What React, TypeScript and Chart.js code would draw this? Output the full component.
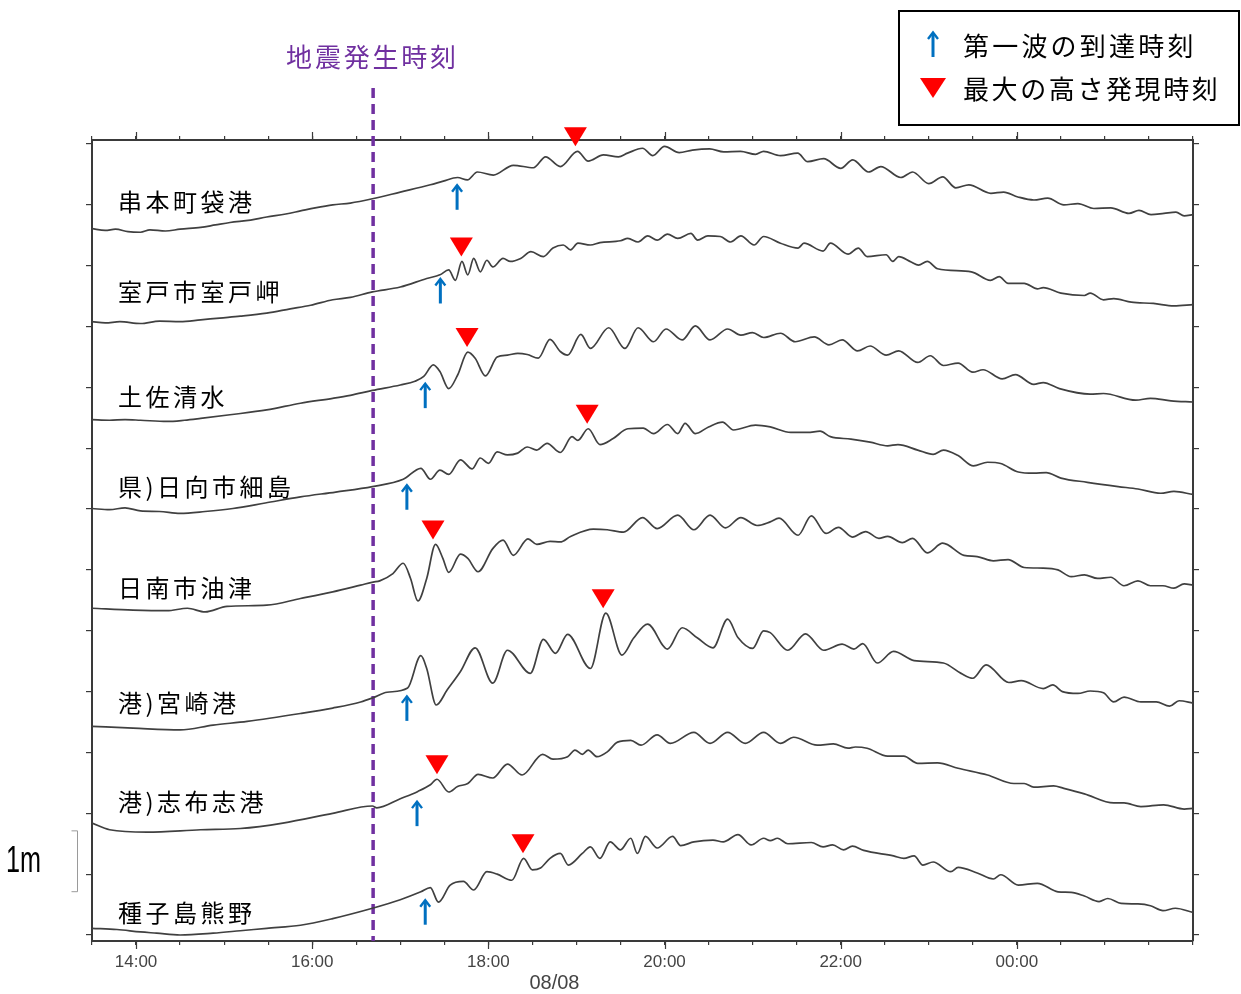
import React, { useEffect, useRef } from "react";
import { Chart, registerables } from "chart.js";

Chart.register(...registerables);

// Time axis: minutes elapsed since 13:30 on 08/08 (axis runs to 02:00 next day)
const START_CLOCK_MIN = 13 * 60 + 30;
const AXIS_END_MIN = 750;
const DATE_LABEL = "08/08";
const DATE_LABEL_AT = 315;
const QUAKE_TIME = 191.5;
const QUAKE_LABEL = "地震発生時刻";

const STATIONS = [
  "串本町袋港",
  "室戸市室戸岬",
  "土佐清水",
  "県)日向市細島",
  "日南市油津",
  "港)宮崎港",
  "港)志布志港",
  "種子島熊野",
];
// level (m, stacked axis) at which each station name is written
const LABEL_LEVELS = [12.05, 10.57, 8.85, 7.37, 5.7, 3.81, 2.19, 0.37];

// ---- tide-gauge traces (time in minutes since 13:30, level in m on stacked axis)
const KUSHIMOTO_T = [0, 9, 16, 24.5, 33, 39.5, 50, 60, 74, 84, 94, 108, 119, 132, 142, 152, 164, 176, 191, 210, 230.5, 239.3, 249, 255.7, 262.5, 273.4, 287, 300.7, 309, 319, 330.7, 338, 348.4, 358.6, 364.8, 375, 382, 390, 400, 409, 420.7, 430.3, 441.8, 452, 457.5, 469, 480.7, 487.5, 498.4, 510, 518.2, 529, 537.3, 551, 559, 570, 579.5, 588.4, 597.3, 612.3, 621, 630.7, 641.6, 651, 662, 671.6, 682.5, 694, 706.4, 713.2, 721.4, 730.2, 738.4, 744, 750];
const KUSHIMOTO_H = [11.61, 11.58, 11.6, 11.56, 11.55, 11.59, 11.57, 11.6, 11.63, 11.67, 11.71, 11.75, 11.8, 11.85, 11.9, 11.95, 12.0, 12.03, 12.1, 12.21, 12.33, 12.39, 12.45, 12.41, 12.54, 12.49, 12.65, 12.61, 12.79, 12.63, 12.88, 12.72, 12.82, 12.79, 12.85, 12.93, 12.81, 12.96, 12.86, 12.9, 12.92, 12.87, 12.88, 12.83, 12.88, 12.81, 12.85, 12.71, 12.76, 12.6, 12.74, 12.54, 12.63, 12.45, 12.54, 12.35, 12.46, 12.28, 12.33, 12.19, 12.21, 12.13, 12.08, 12.11, 12.0, 12.02, 11.94, 11.95, 11.86, 11.91, 11.84, 11.86, 11.88, 11.82, 11.84];

const MUROTO_T = [0, 9, 19, 33, 46, 60, 74, 87, 101, 119, 135, 149, 164, 176, 191, 210, 228, 237, 243, 247.5, 252, 256, 260, 264.5, 269, 273, 280, 285, 292, 299, 307.5, 314, 321, 326, 331, 339.5, 346, 360, 365, 372, 378.5, 385, 392, 399, 408, 412.5, 419.5, 428, 435, 442, 451, 457.5, 469, 481, 485, 498, 503, 515, 522, 528, 541, 545.5, 549.5, 558, 563, 569, 576, 599, 612, 618, 624, 635, 644, 648, 660, 676, 680, 689, 696, 708, 723, 737, 750];
const MUROTO_H = [10.08, 10.06, 10.08, 10.05, 10.09, 10.08, 10.11, 10.14, 10.17, 10.22, 10.29, 10.35, 10.44, 10.48, 10.57, 10.65, 10.79, 10.85, 10.93, 10.76, 11.07, 10.85, 11.12, 10.9, 11.09, 10.98, 11.12, 11.07, 11.12, 11.23, 11.15, 11.29, 11.34, 11.26, 11.37, 11.34, 11.38, 11.41, 11.45, 11.39, 11.49, 11.42, 11.52, 11.45, 11.53, 11.42, 11.49, 11.48, 11.39, 11.49, 11.34, 11.48, 11.37, 11.29, 11.37, 11.24, 11.37, 11.19, 11.29, 11.15, 11.18, 11.07, 11.15, 11.06, 11.01, 11.07, 10.95, 10.9, 10.76, 10.82, 10.71, 10.71, 10.62, 10.64, 10.55, 10.51, 10.55, 10.44, 10.46, 10.4, 10.38, 10.34, 10.36];

const TOSASHIMIZU_T = [0, 12, 22.5, 33, 51, 63, 74, 94, 119, 142, 164, 176, 191, 210, 220, 226, 232.5, 237, 243, 249, 256, 261, 268, 276, 283, 290, 296.5, 304, 312, 319, 324, 333, 339.5, 352, 363, 372, 382.5, 391, 402, 411, 421, 433, 442, 450, 457.5, 469, 479, 492, 502, 511, 521.5, 530, 541, 549.5, 562.5, 571, 580, 590, 600, 607, 620, 629, 641.5, 648, 659, 680, 689, 711, 721, 735, 750];
const TOSASHIMIZU_H = [8.47, 8.46, 8.47, 8.46, 8.44, 8.46, 8.49, 8.55, 8.63, 8.74, 8.82, 8.87, 8.95, 9.04, 9.1, 9.18, 9.37, 9.26, 8.98, 9.2, 9.58, 9.48, 9.19, 9.5, 9.53, 9.56, 9.54, 9.48, 9.79, 9.59, 9.53, 9.87, 9.64, 9.98, 9.64, 9.98, 9.75, 9.96, 9.78, 10.01, 9.78, 9.96, 9.86, 9.9, 9.82, 9.89, 9.75, 9.83, 9.7, 9.78, 9.6, 9.68, 9.53, 9.6, 9.41, 9.52, 9.36, 9.4, 9.25, 9.29, 9.14, 9.21, 9.05, 9.08, 8.98, 8.89, 8.9, 8.79, 8.82, 8.78, 8.76];

const HOSOSHIMA_T = [0, 12, 22.5, 33, 46, 60, 77, 96, 118, 142, 166, 191, 212, 224, 230.5, 237, 243, 251, 259, 264.5, 270, 276, 283, 290, 296.5, 303, 310, 319, 327, 331, 338, 346, 355, 365, 375.5, 382.5, 392, 399, 404, 411, 420, 429.5, 437, 452, 462, 476, 487.5, 496, 503, 517, 530, 542, 549, 562.5, 573, 580, 590, 600.5, 610, 619, 631, 641.5, 650, 660, 678, 699, 712.5, 728, 737, 750];
const HOSOSHIMA_H = [7.01, 6.99, 7.02, 6.97, 6.96, 6.93, 6.96, 7.01, 7.1, 7.2, 7.28, 7.37, 7.49, 7.67, 7.49, 7.64, 7.57, 7.81, 7.66, 7.84, 7.75, 7.94, 7.89, 7.92, 8.02, 7.97, 8.08, 7.93, 8.19, 8.13, 8.32, 8.06, 8.16, 8.32, 8.33, 8.24, 8.39, 8.24, 8.41, 8.24, 8.35, 8.43, 8.3, 8.38, 8.35, 8.26, 8.26, 8.28, 8.19, 8.15, 8.1, 8.04, 8.06, 7.97, 7.9, 7.97, 7.88, 7.71, 7.77, 7.75, 7.61, 7.59, 7.6, 7.51, 7.44, 7.37, 7.33, 7.26, 7.29, 7.24];

const ABURATSU_T = [0, 28, 51, 65, 77, 92, 119, 142, 164, 183, 191.5, 196, 205, 212, 217, 222, 228, 234, 239, 243, 251, 256, 263, 273, 280, 287, 297, 303, 312, 319, 326, 341.5, 351, 362, 375, 385, 399, 410, 421, 431.5, 442, 453, 462, 468, 481, 490, 500, 508.5, 518, 527, 536, 542, 552, 559, 569, 579.5, 594, 603, 614, 624, 635, 648, 658, 667, 676, 685, 694, 703, 712.5, 721, 729.5, 737, 744, 750];
const ABURATSU_H = [5.37, 5.34, 5.33, 5.37, 5.31, 5.4, 5.42, 5.53, 5.64, 5.75, 5.8, 5.82, 5.94, 6.11, 5.86, 5.49, 5.86, 6.42, 6.19, 5.96, 6.26, 6.19, 5.97, 6.35, 6.49, 6.24, 6.51, 6.42, 6.47, 6.46, 6.55, 6.67, 6.66, 6.62, 6.86, 6.68, 6.9, 6.66, 6.9, 6.69, 6.86, 6.73, 6.79, 6.85, 6.57, 6.89, 6.6, 6.7, 6.54, 6.63, 6.52, 6.55, 6.45, 6.52, 6.28, 6.44, 6.24, 6.22, 6.15, 6.17, 6.04, 6.03, 6.0, 5.89, 5.92, 5.86, 5.88, 5.74, 5.82, 5.74, 5.74, 5.7, 5.77, 5.75];

const MIYAZAKI_T = [0, 28, 60, 82.5, 105.7, 142, 164, 183, 191.5, 201, 215, 224, 228, 234.5, 242, 251, 261, 273, 283, 298.6, 307.5, 315.7, 324, 339.5, 350, 361, 369, 378.5, 392, 402, 412.5, 423, 433, 440, 450, 457.5, 462, 474, 486, 498.4, 511, 519, 525, 535, 546, 560, 580, 592, 600, 609, 624.5, 633, 648, 654.5, 661, 671.6, 680, 689, 696, 703, 714.5, 725, 734, 740.5, 750];
const MIYAZAKI_H = [3.43, 3.4, 3.37, 3.45, 3.51, 3.64, 3.73, 3.83, 3.9, 3.99, 4.06, 4.59, 4.38, 3.78, 4.03, 4.33, 4.72, 4.14, 4.68, 4.3, 4.86, 4.63, 4.94, 4.38, 5.29, 4.6, 4.88, 5.11, 4.7, 5.05, 4.88, 4.72, 5.19, 4.89, 4.71, 5.0, 4.97, 4.68, 4.95, 4.68, 4.78, 4.7, 4.79, 4.47, 4.66, 4.51, 4.47, 4.3, 4.22, 4.44, 4.15, 4.18, 4.05, 4.11, 4.0, 3.97, 4.01, 3.98, 3.83, 3.91, 3.83, 3.83, 3.76, 3.85, 3.81];

const SHIBUSHI_T = [0, 12, 37.5, 74, 101, 130, 164, 191, 194, 210, 222, 230.5, 235, 243, 249, 256, 263, 273, 283, 293, 307, 314, 324, 329, 334, 338, 344, 351, 358, 367, 374, 385, 394, 410, 421, 433, 445, 457.5, 469, 478, 494, 505, 515, 520, 528, 542, 553, 562.5, 576, 590, 610, 628, 635, 641.5, 655, 662, 676, 696, 703, 714.5, 730, 744, 750];
const SHIBUSHI_H = [1.84, 1.73, 1.69, 1.73, 1.75, 1.84, 2.0, 2.12, 2.09, 2.24, 2.36, 2.47, 2.56, 2.35, 2.44, 2.49, 2.64, 2.58, 2.81, 2.63, 2.97, 2.89, 2.93, 3.04, 2.97, 3.04, 2.93, 3.01, 3.17, 3.2, 3.12, 3.29, 3.15, 3.33, 3.15, 3.33, 3.15, 3.33, 3.15, 3.25, 3.12, 3.14, 3.07, 3.09, 3.07, 2.94, 2.94, 2.82, 2.83, 2.74, 2.63, 2.49, 2.49, 2.43, 2.45, 2.41, 2.32, 2.17, 2.17, 2.11, 2.14, 2.07, 2.08];

const KUMANO_T = [0, 17, 33, 44, 60, 82.5, 101, 119, 142, 164, 191, 210, 224, 230.5, 236, 244, 253, 260, 269, 276, 286, 294, 300, 305.5, 312, 319, 324.5, 334, 339.5, 346, 353, 360, 367, 371.5, 377, 385, 395.5, 401, 410, 423, 430, 440, 449, 457.5, 462, 467, 474, 490, 498, 504.5, 512, 518, 525.7, 546, 553, 560, 566, 573, 585, 590, 603, 614, 619, 631, 644, 658, 667, 676, 686, 692, 701, 712.5, 721, 729.5, 738, 750];
const KUMANO_H = [0.11, 0.09, 0.05, 0.03, 0.0, 0.03, 0.07, 0.11, 0.16, 0.27, 0.44, 0.58, 0.71, 0.78, 0.54, 0.82, 0.88, 0.74, 1.04, 1.0, 0.9, 1.26, 1.07, 1.1, 1.26, 1.34, 1.15, 1.34, 1.45, 1.26, 1.53, 1.4, 1.59, 1.34, 1.62, 1.43, 1.62, 1.47, 1.53, 1.56, 1.53, 1.65, 1.48, 1.59, 1.55, 1.59, 1.5, 1.52, 1.45, 1.48, 1.4, 1.46, 1.39, 1.3, 1.26, 1.3, 1.15, 1.2, 1.04, 1.11, 1.02, 0.92, 0.99, 0.82, 0.85, 0.71, 0.7, 0.64, 0.55, 0.6, 0.52, 0.51, 0.48, 0.4, 0.44, 0.37];

const TRACE_TIMES = [KUSHIMOTO_T, MUROTO_T, TOSASHIMIZU_T, HOSOSHIMA_T, ABURATSU_T, MIYAZAKI_T, SHIBUSHI_T, KUMANO_T];
const TRACE_LEVELS = [KUSHIMOTO_H, MUROTO_H, TOSASHIMIZU_H, HOSOSHIMA_H, ABURATSU_H, MIYAZAKI_H, SHIBUSHI_H, KUMANO_H];

// first-wave arrival (blue arrow): time and level of the arrow tip
const ARRIVAL_TIMES = [248.7, 237.3, 227, 214.5, null, 214.5, 221.4, 227];
const ARRIVAL_LEVELS = [12.33, 10.79, 9.07, 7.4, null, 3.93, 2.2, 0.58];
// maximum height (red triangle): time and level of the peak
const MAX_TIMES = [329.3, 251.6, 255.5, 337.3, 232.3, 348.2, 235, 293.6];
const MAX_LEVELS = [12.88, 11.07, 9.58, 8.32, 6.42, 5.29, 2.56, 1.26];

const LEGEND_ARRIVAL = "第一波の到達時刻";
const LEGEND_MAX = "最大の高さ発現時刻";
const SCALE_BAR_LABEL = "1m";
const SCALE_BAR_FROM = 0.72;
const SCALE_BAR_TO = 1.72;

const Y_MIN = -0.0986;
const Y_MAX = 13.066;

const W = 1241;
const H = 994;
const FRAME = "#3a3a3a";
const TICK_TXT = "#444444";
const CJK = "'Noto Sans CJK JP', 'Noto Sans CJK SC', sans-serif";
const LATIN = "'Liberation Sans', Arial, sans-serif";

function clock(m: number): string {
  const t = (((START_CLOCK_MIN + m) % 1440) + 1440) % 1440;
  const h = Math.floor(t / 60);
  const mm = Math.round(t % 60);
  return String(h).padStart(2, "0") + ":" + String(mm).padStart(2, "0");
}
function isMajor(m: number): boolean {
  return (((START_CLOCK_MIN + m) % 120) + 120) % 120 === 0;
}

function drawArrow(ctx: CanvasRenderingContext2D, x: number, tip: number, len: number) {
  ctx.save();
  ctx.strokeStyle = "#0070C0";
  ctx.lineWidth = 3;
  ctx.lineCap = "butt";
  ctx.lineJoin = "miter";
  ctx.beginPath();
  ctx.moveTo(x, tip + 1);
  ctx.lineTo(x, tip + len);
  ctx.stroke();
  ctx.lineWidth = 2.4;
  ctx.beginPath();
  ctx.moveTo(x - 5, tip + 7);
  ctx.lineTo(x, tip + 0.5);
  ctx.lineTo(x + 5, tip + 7);
  ctx.stroke();
  ctx.restore();
}

function drawTriangle(ctx: CanvasRenderingContext2D, x: number, tip: number, w: number, h: number) {
  ctx.save();
  ctx.fillStyle = "#FF0000";
  ctx.beginPath();
  ctx.moveTo(x - w / 2, tip - h);
  ctx.lineTo(x + w / 2, tip - h);
  ctx.lineTo(x, tip);
  ctx.closePath();
  ctx.fill();
  ctx.restore();
}

function spacedText(ctx: CanvasRenderingContext2D, text: string, x: number, y: number, spacing: number) {
  const anyCtx = ctx as any;
  if ("letterSpacing" in anyCtx) {
    anyCtx.letterSpacing = spacing + "px";
    ctx.fillText(text, x, y);
    anyCtx.letterSpacing = "0px";
  } else {
    let cx = x;
    for (const ch of Array.from(text)) {
      ctx.fillText(ch, cx, y);
      cx += ctx.measureText(ch).width + spacing;
    }
  }
}

const overlayPlugin = {
  id: "tsunamiOverlay",
  beforeDatasetsDraw(chart: any) {
    const { ctx, scales, chartArea } = chart;
    const qx = scales.x.getPixelForValue(QUAKE_TIME);
    ctx.save();
    ctx.strokeStyle = "#7030A0";
    ctx.lineWidth = 3.5;
    ctx.setLineDash([10, 6]);
    ctx.beginPath();
    ctx.moveTo(qx, 88);
    ctx.lineTo(qx, chartArea.bottom);
    ctx.stroke();
    ctx.restore();
  },
  afterDatasetsDraw(chart: any) {
    const { ctx, scales } = chart;
    const xs = scales.x;
    const ys = scales.y;
    for (let i = 0; i < STATIONS.length; i++) {
      const at = ARRIVAL_TIMES[i];
      const al = ARRIVAL_LEVELS[i];
      if (at !== null && al !== null) {
        drawArrow(ctx, xs.getPixelForValue(at), ys.getPixelForValue(al), 25);
      }
      drawTriangle(ctx, xs.getPixelForValue(MAX_TIMES[i]), ys.getPixelForValue(MAX_LEVELS[i]) - 5, 23, 19);
    }
  },
  afterDraw(chart: any) {
    const { ctx, scales, chartArea } = chart;
    const xs = scales.x;
    const ys = scales.y;
    ctx.save();
    // longer ticks at labelled hours (top and bottom)
    ctx.strokeStyle = FRAME;
    ctx.lineWidth = 1.2;
    for (let m = 30; m < AXIS_END_MIN; m += 30) {
      if (!isMajor(m)) continue;
      const px = Math.round(xs.getPixelForValue(m)) + 0.5;
      ctx.beginPath();
      ctx.moveTo(px, chartArea.bottom);
      ctx.lineTo(px, chartArea.bottom + 8);
      ctx.moveTo(px, chartArea.top);
      ctx.lineTo(px, chartArea.top - 8);
      ctx.stroke();
    }
    // station names
    ctx.fillStyle = "#000";
    ctx.font = "24px " + CJK;
    ctx.textAlign = "left";
    ctx.textBaseline = "middle";
    for (let i = 0; i < STATIONS.length; i++) {
      spacedText(ctx, STATIONS[i], 118, ys.getPixelForValue(LABEL_LEVELS[i]), 3.5);
    }
    // quake label
    const qx = xs.getPixelForValue(QUAKE_TIME);
    ctx.fillStyle = "#7030A0";
    ctx.font = "26px " + CJK;
    ctx.textAlign = "left";
    const qw = ctx.measureText(QUAKE_LABEL).width + 5 * 2.8;
    spacedText(ctx, QUAKE_LABEL, qx - 2 - qw / 2, 57, 2.8);
    // date label
    ctx.fillStyle = TICK_TXT;
    ctx.font = "20px " + LATIN;
    ctx.textAlign = "center";
    ctx.fillText(DATE_LABEL, xs.getPixelForValue(DATE_LABEL_AT), 983);
    // scale bar (1 m on the level axis)
    const b0 = ys.getPixelForValue(SCALE_BAR_FROM);
    const b1 = ys.getPixelForValue(SCALE_BAR_TO);
    ctx.strokeStyle = "#9a9a9a";
    ctx.lineWidth = 1;
    ctx.beginPath();
    ctx.moveTo(71.5, b1 + 0.5);
    ctx.lineTo(77.5, b1 + 0.5);
    ctx.lineTo(77.5, b0 + 0.5);
    ctx.lineTo(71.5, b0 + 0.5);
    ctx.stroke();
    ctx.save();
    ctx.fillStyle = "#000";
    ctx.font = "36px " + LATIN;
    ctx.textAlign = "left";
    ctx.translate(6, (b0 + b1) / 2 + 1);
    ctx.scale(0.7, 1);
    ctx.fillText(SCALE_BAR_LABEL, 0, 0);
    ctx.restore();
    // legend box
    ctx.strokeStyle = "#000";
    ctx.lineWidth = 2;
    ctx.strokeRect(899, 11, 340, 114);
    drawArrow(ctx, 933, 32, 25);
    drawTriangle(ctx, 933, 98, 26, 20);
    ctx.fillStyle = "#000";
    ctx.font = "26px " + CJK;
    ctx.textAlign = "left";
    ctx.textBaseline = "middle";
    spacedText(ctx, LEGEND_ARRIVAL, 963, 46, 3.2);
    spacedText(ctx, LEGEND_MAX, 963, 89, 2.6);
    ctx.restore();
  },
};

export default function App() {
  const ref = useRef<HTMLCanvasElement | null>(null);

  useEffect(() => {
    const canvas = ref.current;
    if (!canvas) return;
    const datasets = STATIONS.map((name, i) => {
      const t = TRACE_TIMES[i];
      const v = TRACE_LEVELS[i];
      const n = Math.min(t.length, v.length);
      const data = [];
      for (let k = 0; k < n; k++) data.push({ x: t[k], y: v[k] });
      return {
        label: name,
        data,
        borderColor: "#404040",
        borderWidth: 1.7,
        pointRadius: 0,
        fill: false,
        cubicInterpolationMode: "monotone" as const,
        xAxisID: "x",
        yAxisID: "y",
      };
    });

    const xGrid = {
      drawOnChartArea: false,
      drawTicks: true,
      tickLength: 4,
      color: FRAME,
      tickColor: FRAME,
      lineWidth: 1.2,
    };
    const yGrid = { ...xGrid, tickLength: 6 };
    const border = { display: true, color: FRAME, width: 2 };

    const chart = new Chart(canvas, {
      type: "line",
      data: { datasets },
      plugins: [overlayPlugin],
      options: {
        responsive: false,
        maintainAspectRatio: false,
        animation: false,
        events: [],
        layout: { padding: 0, autoPadding: false },
        plugins: {
          legend: { display: false },
          tooltip: { enabled: false },
          title: { display: false },
        },
        scales: {
          x: {
            type: "linear",
            position: "bottom",
            min: 0,
            max: AXIS_END_MIN,
            grid: xGrid,
            border,
            ticks: {
              stepSize: 30,
              autoSkip: false,
              maxRotation: 0,
              includeBounds: false,
              padding: 7,
              color: TICK_TXT,
              font: { family: LATIN, size: 17 },
              callback: (value: any) => {
                const m = Number(value);
                return m > 0 && m < AXIS_END_MIN && isMajor(m) ? clock(m) : "";
              },
            },
            afterFit: (scale: any) => {
              scale.height = H - 941;
            },
          },
          x2: {
            type: "linear",
            position: "top",
            min: 0,
            max: AXIS_END_MIN,
            grid: xGrid,
            border,
            ticks: { stepSize: 30, display: false, autoSkip: false, includeBounds: false },
            afterFit: (scale: any) => {
              scale.height = 140;
            },
          },
          y: {
            type: "linear",
            position: "left",
            min: Y_MIN,
            max: Y_MAX,
            grid: yGrid,
            border,
            ticks: { stepSize: 1, display: false, autoSkip: false, includeBounds: false },
            afterFit: (scale: any) => {
              scale.width = 92;
            },
          },
          y2: {
            type: "linear",
            position: "right",
            min: Y_MIN,
            max: Y_MAX,
            grid: yGrid,
            border,
            ticks: { stepSize: 1, display: false, autoSkip: false, includeBounds: false },
            afterFit: (scale: any) => {
              scale.width = W - 1193;
            },
          },
        },
      } as any,
    });
    return () => chart.destroy();
  }, []);

  return (
    <div style={{ position: "absolute", left: 0, top: 0, width: W, height: H, background: "#fff" }}>
      <canvas ref={ref} width={W} height={H} style={{ display: "block", width: W, height: H }} />
    </div>
  );
}
